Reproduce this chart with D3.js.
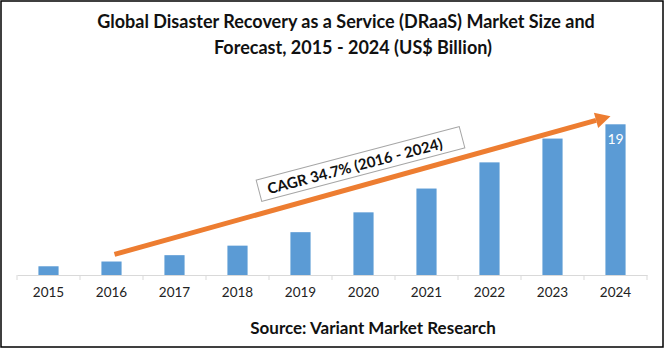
<!DOCTYPE html>
<html>
<head>
<meta charset="utf-8">
<script src="https://cdn.jsdelivr.net/npm/d3@7"></script>
<style>
  body { margin: 0; background: #fff; }
  text { font-family: Lato, "Open Sans", sans-serif; }
</style>
</head>
<body>
<div id="wrapper"></div>
<script>
// data (US$ billion)
const years = ["2015", "2016", "2017", "2018", "2019", "2020", "2021", "2022", "2023", "2024"];
const marketSize = [1.1, 1.7, 2.5, 3.7, 5.4, 7.9, 10.9, 14.2, 17.2, 19.0];
const labelledYears = ["2024"];
const titleLines = ["Global Disaster Recovery as a Service (DRaaS) Market Size and", "Forecast, 2015 - 2024 (US$ Billion)"];
const cagrText = "CAGR 34.7% (2016 - 2024)";
const arrowFrom = ["2016", 2.6];
const arrowTo = ["2024", 20.0];
const sourceText = "Source: Variant Market Research";

const data = years.map((y, i) => ({year: y, value: marketSize[i]}));

let dimensions = {
  width: 665,
  height: 350,
  margin: {top: 100, right: 18, bottom: 75, left: 17},
};
dimensions.boundedWidth = dimensions.width - dimensions.margin.left - dimensions.margin.right;
dimensions.boundedHeight = dimensions.height - dimensions.margin.top - dimensions.margin.bottom;

const svg = d3.select("#wrapper").append("svg")
  .attr("width", dimensions.width)
  .attr("height", dimensions.height);

// outer frame
svg.append("rect")
  .attr("x", 1).attr("y", 1)
  .attr("width", dimensions.width - 3).attr("height", dimensions.height - 4)
  .attr("fill", "#fff").attr("stroke", "#000").attr("stroke-width", 1.5);

const xScale = d3.scaleBand()
  .domain(years)
  .range([dimensions.margin.left, dimensions.width - dimensions.margin.right]);
const yScale = d3.scaleLinear()
  .domain([0, 22])
  .range([dimensions.height - dimensions.margin.bottom, dimensions.margin.top + 0.5]);

const baseY = yScale(0);
const step = xScale.bandwidth();
const barW = step * 0.32;
const xCenter = y => xScale(y) + step / 2;

// title
svg.append("text")
  .attr("text-anchor", "middle")
  .attr("font-size", 18).attr("font-weight", "bold").attr("fill", "#111")
  .selectAll("tspan").data(titleLines).join("tspan")
  .attr("x", (d, i) => i ? 353 : 346).attr("y", (d, i) => i ? 54 : 28)
  .text(d => d);

// bars
svg.append("g").selectAll("rect").data(data).join("rect")
  .attr("x", d => xCenter(d.year) - barW / 2)
  .attr("width", barW)
  .attr("y", d => yScale(d.value))
  .attr("height", d => baseY - yScale(d.value))
  .attr("fill", "#5b9bd5");

// bar labels
svg.append("g").selectAll("text").data(data.filter(d => labelledYears.includes(d.year))).join("text")
  .attr("x", d => xCenter(d.year))
  .attr("y", d => yScale(d.value) + 20)
  .attr("text-anchor", "middle")
  .attr("font-size", 14).attr("fill", "#fff")
  .text(d => d.value.toFixed(0));

// x axis
const xAxis = svg.append("g")
  .attr("transform", `translate(0,${baseY})`)
  .call(d3.axisBottom(xScale).tickSize(0).tickPadding(12));
xAxis.select(".domain").attr("stroke", "#d9d9d9");
xAxis.selectAll("text").attr("font-size", 13.5).attr("fill", "#222").attr("font-family", "Lato, sans-serif");
xAxis.selectAll(".boundary").data(years.concat(["end"])).join("line")
  .attr("class", "boundary")
  .attr("x1", (d, i) => xScale.range()[0] + i * step)
  .attr("x2", (d, i) => xScale.range()[0] + i * step)
  .attr("y1", 0).attr("y2", 5)
  .attr("stroke", "#d9d9d9");

// growth arrow
const ax1 = xCenter(arrowFrom[0]) + 3, ay1 = yScale(arrowFrom[1]);
const ax2 = xCenter(arrowTo[0]) - 5, ay2 = yScale(arrowTo[1]);
const ang = Math.atan2(ay2 - ay1, ax2 - ax1);
const headLen = 15, headHalf = 8;
const bx = ax2 - headLen * Math.cos(ang), by = ay2 - headLen * Math.sin(ang);
svg.append("line")
  .attr("x1", ax1).attr("y1", ay1).attr("x2", bx).attr("y2", by)
  .attr("stroke", "#ed7d31").attr("stroke-width", 5);
svg.append("path")
  .attr("d", d3.line()([
    [ax2, ay2],
    [bx + headHalf * Math.sin(ang), by - headHalf * Math.cos(ang)],
    [bx - headHalf * Math.sin(ang), by + headHalf * Math.cos(ang)]
  ]) + "Z")
  .attr("fill", "#ed7d31");

// CAGR callout
const deg = ang * 180 / Math.PI;
const cagr = svg.append("g")
  .attr("transform", `translate(${xCenter("2020") - 3},${yScale(14)}) rotate(${deg + 0.8})`);
cagr.append("rect")
  .attr("x", -105).attr("y", -11).attr("width", 210).attr("height", 22)
  .attr("fill", "#fff").attr("stroke", "#a6a6a6").attr("stroke-width", 1);
cagr.append("text")
  .attr("x", -6).attr("y", 6)
  .attr("text-anchor", "middle")
  .attr("font-size", 15).attr("font-weight", "bold").attr("fill", "#111")
  .text(cagrText);

// source
svg.append("text")
  .attr("x", 373).attr("y", 334)
  .attr("text-anchor", "middle")
  .attr("font-size", 17).attr("font-weight", "bold").attr("fill", "#111")
  .text(sourceText);
</script>
</body>
</html>
